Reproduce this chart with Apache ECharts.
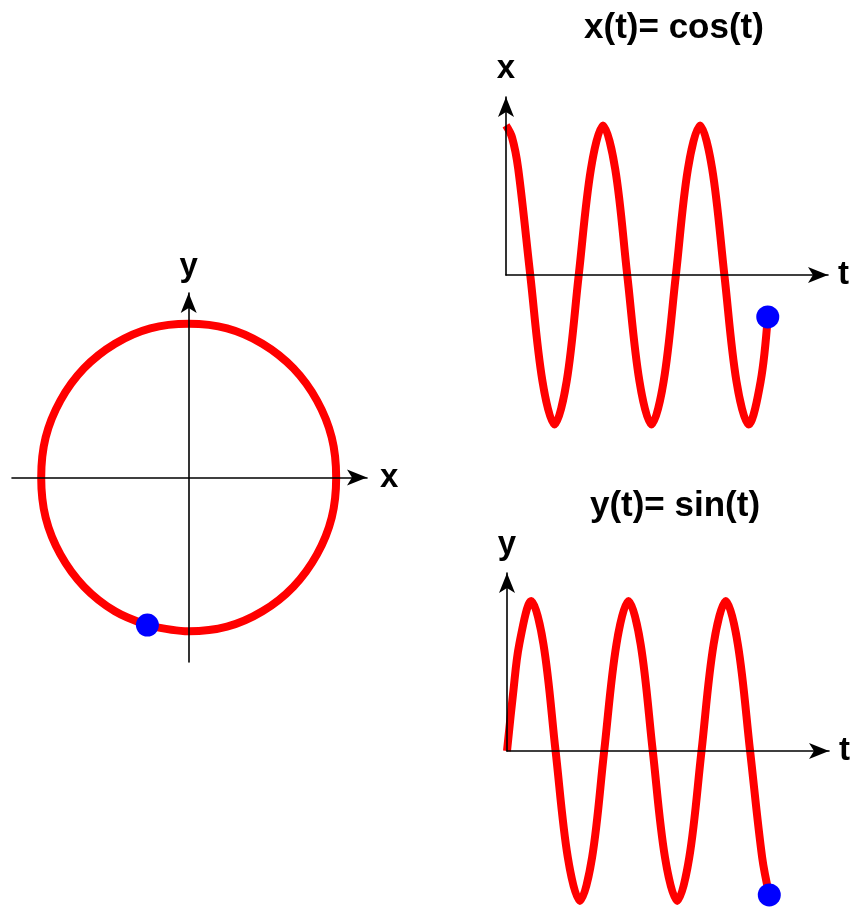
<!DOCTYPE html>
<html>
<head>
<meta charset="utf-8">
<script src="https://cdn.jsdelivr.net/npm/echarts@6/dist/echarts.min.js"></script>
<style>
  html, body { margin: 0; padding: 0; background: #fff; }
  #main { width: 851px; height: 907px; }
</style>
</head>
<body>
<div id="main"></div>
<script>
  // t samples (rad)
  const tValues = [0, 0.39, 0.79, 1.57, 2.36, 3.14, 3.93, 4.71, 5.50, 6.28, 7.07, 7.85, 8.64,
    9.42, 10.21, 11.00, 11.78, 12.57, 13.35, 14.14, 14.92, 15.71, 16.49, 16.95];
  const cosValues = [1, 0.92, 0.71, 0, -0.71, -1, -0.71, 0, 0.71, 1, 0.71, 0, -0.71,
    -1, -0.71, 0, 0.71, 1, 0.71, 0, -0.71, -1, -0.71, -0.28];
  const sinValues = [0, 0.38, 0.71, 1, 0.71, 0, -0.71, -1, -0.71, 0, 0.71, 1, 0.71,
    0, -0.71, -1, -0.71, 0, 0.71, 1, 0.71, 0, -0.71, -0.96];

  // unit circle, traced from the blue point round once back to it (every 15 deg)
  const circleX = [-0.28, 0, 0.26, 0.5, 0.71, 0.87, 0.97, 1, 0.97, 0.87, 0.71, 0.5, 0.26,
    0, -0.26, -0.5, -0.71, -0.87, -0.97, -1, -0.97, -0.87, -0.71, -0.5, -0.28];
  const circleY = [-0.96, -1, -0.97, -0.87, -0.71, -0.5, -0.26, 0, 0.26, 0.5, 0.71, 0.87, 0.97,
    1, 0.97, 0.87, 0.71, 0.5, 0.26, 0, -0.26, -0.5, -0.71, -0.87, -0.96];

  // current point (end of t)
  const dotX = -0.28;
  const dotY = -0.96;
  const tEnd = 16.95;

  const titles = ['x(t)= cos(t)', 'y(t)= sin(t)'];

  const RED = '#ff0000';
  const BLUE = '#0000ff';
  const FONT = 'Liberation Sans, Arial, sans-serif';

  function axis(grid, min, max, name, gap, pad) {
    return {
      type: 'value',
      gridIndex: grid,
      min: min,
      max: max,
      name: name,
      nameLocation: 'end',
      nameGap: gap,
      nameTextStyle: {
        fontSize: 33, fontWeight: 'bold', color: '#000', fontFamily: FONT,
        padding: pad || 0
      },
      z: 5,
      axisLine: {
        show: true,
        onZero: true,
        symbol: ['none', 'arrow'],
        symbolSize: [12, 20],
        lineStyle: { color: '#000', width: 1.6 }
      },
      axisTick: { show: false },
      axisLabel: { show: false },
      splitLine: { show: false }
    };
  }

  function zip(a, b) {
    return a.map((v, i) => [v, b[i]]);
  }

  function curve(idx, data) {
    return {
      type: 'line',
      xAxisIndex: idx,
      yAxisIndex: idx,
      data: data,
      smooth: 0.34,
      showSymbol: false,
      clip: false,
      silent: true,
      lineStyle: { color: RED, width: 8 },
      z: 2
    };
  }

  function dot(idx, x, y) {
    return {
      type: 'scatter',
      xAxisIndex: idx,
      yAxisIndex: idx,
      data: [[x, y]],
      symbolSize: 23,
      clip: false,
      itemStyle: { color: BLUE, opacity: 1 },
      z: 10
    };
  }

  const titleStyle = { fontSize: 35, fontWeight: 'bold', color: '#000', fontFamily: FONT };

  const chart = echarts.init(document.getElementById('main'));
  const option = {
    backgroundColor: '#fff',
    animation: false,
    title: [
      { text: titles[0], left: 669, top: 6, textAlign: 'center', textStyle: titleStyle },
      { text: titles[1], left: 670, top: 484, textAlign: 'center', textStyle: titleStyle }
    ],
    grid: [
      { left: 12, top: 293, width: 355, height: 369 },
      { left: 506, top: 97, width: 322, height: 178 },
      { left: 507, top: 573, width: 323, height: 178 }
    ],
    xAxis: [
      axis(0, -1.198, 1.209, 'x', 13, [6, 0, 0, 0]),
      axis(1, 0, 20.85, 't', 10),
      axis(2, 0, 20.81, 't', 10)
    ],
    yAxis: [
      axis(0, -1.2, 1.2, 'y', 10),
      axis(1, 0, 1.19, 'x', 12),
      axis(2, 0, 1.187, 'y', 12)
    ],
    series: [
      curve(0, zip(circleX, circleY)),
      curve(1, zip(tValues, cosValues)),
      curve(2, zip(tValues, sinValues)),
      dot(0, dotX, dotY),
      dot(1, tEnd, dotX),
      dot(2, tEnd, dotY)
    ]
  };
  chart.setOption(option);
</script>
</body>
</html>
